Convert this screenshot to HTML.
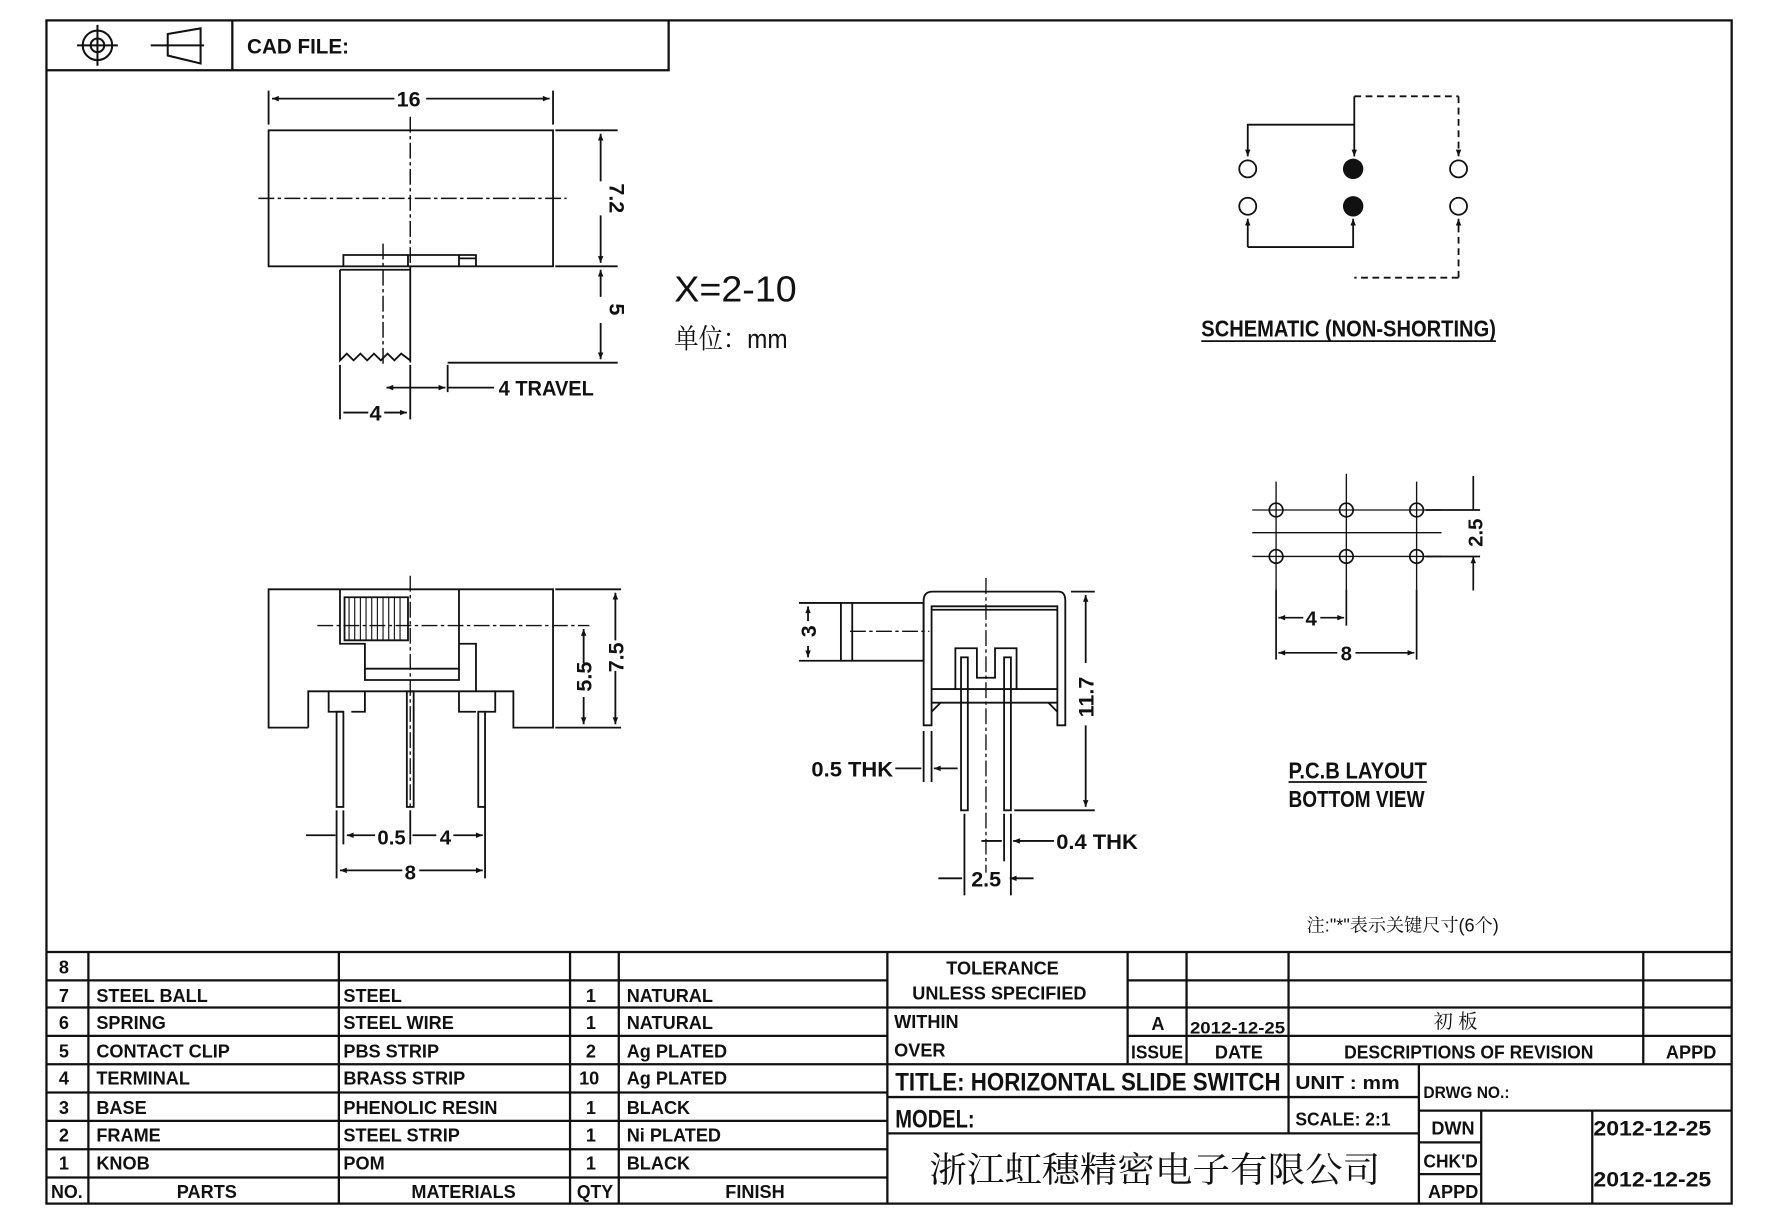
<!DOCTYPE html>
<html><head><meta charset="utf-8"><style>
html,body{margin:0;padding:0;background:#fff}
svg{display:block}
text{font-family:"Liberation Sans Narrow","Liberation Sans","Noto Sans CJK SC",sans-serif;font-weight:bold;fill:#111}
.c{font-family:"Liberation Sans","Noto Serif CJK SC","Noto Sans CJK SC",sans-serif;font-weight:normal}
</style></head><body>
<svg width="1777" height="1224" viewBox="0 0 1568 1080" preserveAspectRatio="none" xmlns="http://www.w3.org/2000/svg">
<defs>
<marker id="a" viewBox="0 0 10 10" refX="10" refY="5" markerWidth="8" markerHeight="6" orient="auto-start-reverse" markerUnits="userSpaceOnUse"><path d="M0,1 L10,5 L0,9z" fill="#111"/></marker>
</defs>
<g fill="none" stroke="#111" stroke-width="2">
<rect x="41" y="18" width="1487" height="1044"/>
<path d="M41 62H590V18M205 18V62"/>
<path d="M41 840H1528M41 865H783M41 889H1528M41 914H783M41 939H1528M41 964H783M41 989H783M41 1014H783M41 1039H783"/>
<path d="M78 840V1062M299 840V1062M503 840V1062M546 840V1062M783 840V1062"/>
<path d="M995 865H1528M995 914H1528M995 840V939M1047 840V939M1137 840V1000M1450 840V939"/>
<path d="M783 968H1252M783 1000H1252M1252 939V1062M1252 980H1528M1252 1008H1307M1252 1036H1307M1307 980V1062M1405 980V1062"/>
</g>
<g fill="none" stroke="#111" stroke-width="1.8">
<circle cx="86" cy="40" r="13"/><circle cx="86" cy="40" r="6"/>
<path d="M68 40H104M86 22V58"/>
<path d="M133 40H180M148 30L177 25V56L148 49Z"/>
</g>
<text x="218" y="47" font-size="19" textLength="90" lengthAdjust="spacingAndGlyphs">CAD  FILE:</text>
<g font-size="16">
<text x="52" y="859">8</text>
<text x="52" y="884">7</text><text x="85" y="884">STEEL  BALL</text><text x="303" y="884">STEEL</text><text x="517" y="884">1</text><text x="553" y="884">NATURAL</text>
<text x="52" y="908">6</text><text x="85" y="908">SPRING</text><text x="303" y="908">STEEL  WIRE</text><text x="517" y="908">1</text><text x="553" y="908">NATURAL</text>
<text x="52" y="933">5</text><text x="85" y="933">CONTACT  CLIP</text><text x="303" y="933">PBS  STRIP</text><text x="517" y="933">2</text><text x="553" y="933">Ag  PLATED</text>
<text x="52" y="957">4</text><text x="85" y="957">TERMINAL</text><text x="303" y="957">BRASS  STRIP</text><text x="511" y="957">10</text><text x="553" y="957">Ag  PLATED</text>
<text x="52" y="983">3</text><text x="85" y="983">BASE</text><text x="303" y="983">PHENOLIC  RESIN</text><text x="517" y="983">1</text><text x="553" y="983">BLACK</text>
<text x="52" y="1007">2</text><text x="85" y="1007">FRAME</text><text x="303" y="1007">STEEL  STRIP</text><text x="517" y="1007">1</text><text x="553" y="1007">Ni  PLATED</text>
<text x="52" y="1032">1</text><text x="85" y="1032">KNOB</text><text x="303" y="1032">POM</text><text x="517" y="1032">1</text><text x="553" y="1032">BLACK</text>
<text x="45" y="1057" textLength="28" lengthAdjust="spacingAndGlyphs">NO.</text><text x="156" y="1057">PARTS</text><text x="363" y="1057">MATERIALS</text><text x="509" y="1057" textLength="32" lengthAdjust="spacingAndGlyphs">QTY</text><text x="640" y="1057">FINISH</text>
<text x="835" y="860">TOLERANCE</text><text x="805" y="882">UNLESS    SPECIFIED</text>
<text x="789" y="907">WITHIN</text><text x="789" y="932">OVER</text>
<text x="1016" y="909">A</text><text x="1050" y="912" font-size="15" textLength="84" lengthAdjust="spacingAndGlyphs">2012-12-25</text>
<text x="998" y="934" textLength="46" lengthAdjust="spacingAndGlyphs">ISSUE</text><text x="1072" y="934">DATE</text>
<text x="1186" y="934" textLength="220" lengthAdjust="spacingAndGlyphs">DESCRIPTIONS  OF  REVISION</text><text x="1470" y="934">APPD</text>
<text x="1143" y="961" textLength="92" lengthAdjust="spacingAndGlyphs">UNIT  :  mm</text><text x="1143" y="993" textLength="84" lengthAdjust="spacingAndGlyphs">SCALE:  2:1</text>
<text x="1256" y="969" font-size="15" textLength="76" lengthAdjust="spacingAndGlyphs">DRWG  NO.:</text>
<text x="1263" y="1001">DWN</text><text x="1256" y="1030" textLength="48" lengthAdjust="spacingAndGlyphs">CHK'D</text><text x="1260" y="1057">APPD</text>
<text x="1406" y="1002" font-size="19" textLength="104" lengthAdjust="spacingAndGlyphs">2012-12-25</text><text x="1406" y="1047" font-size="19" textLength="104" lengthAdjust="spacingAndGlyphs">2012-12-25</text>
</g>
<text x="1265" y="907" font-size="17" class="c">初 板</text>
<text x="790" y="962" font-size="22" textLength="340" lengthAdjust="spacingAndGlyphs">TITLE:  HORIZONTAL  SLIDE  SWITCH</text>
<text x="790" y="995" font-size="22" textLength="70" lengthAdjust="spacingAndGlyphs">MODEL:</text>
<text x="820" y="1043" font-size="31" class="c" textLength="398" lengthAdjust="spacingAndGlyphs">浙江虹穗精密电子有限公司</text>

<g fill="none" stroke="#111" stroke-width="1.6">
<rect x="237" y="115" width="251" height="120"/>
<path d="M237 80V110M488 80V110"/>
<path d="M240 87H348M376 87H485" marker-start="url(#a)" marker-end="url(#a)"/>
<path d="M490 115H545M490 235H545M395 320H545"/>
<path d="M530 118V160M530 190V232" marker-start="url(#a)" marker-end="url(#a)"/>
<path d="M530 238V262M530 285V317" marker-start="url(#a)" marker-end="url(#a)"/>
<path d="M228 175H500M362 103V320M338 215V322" stroke-dasharray="14 3 3 3" stroke-width="1.3"/>
<path d="M303 235V225H360V235M360 225H420V235M405 225V235M405 228H420"/>
<path d="M300 238H362M300 238V318L306 312L312 318L318 312L324 318L330 312L336 318L342 312L348 318L354 312L362 318V235"/>
<path d="M300 322V370M362 322V370M395 322V346"/>
<path d="M303 364H325M339 364H359" marker-end="url(#a)"/>
<path d="M341 342H393" marker-start="url(#a)" marker-end="url(#a)"/>
<path d="M395 342H436"/>
</g>
<text x="350" y="94" font-size="19">16</text>
<text x="538" y="175" font-size="19" transform="rotate(90 538 175)" text-anchor="middle">7.2</text>
<text x="538" y="273" font-size="19" transform="rotate(90 538 273)" text-anchor="middle">5</text>
<text x="326" y="371" font-size="19">4</text>
<text x="440" y="349" font-size="19" textLength="84" lengthAdjust="spacingAndGlyphs">4  TRAVEL</text>
<text x="595" y="266" font-size="32" style="font-weight:normal" textLength="108" lengthAdjust="spacingAndGlyphs">X=2-10</text>
<text x="595" y="307" font-size="24" class="c" textLength="100" lengthAdjust="spacingAndGlyphs">单位：mm</text>

<g fill="none" stroke="#111" stroke-width="1.6">
<path d="M1195 85H1287M1287 245H1195" stroke-dasharray="6 4"/>
<path d="M1287 85V138" stroke-dasharray="6 4" marker-end="url(#a)"/>
<path d="M1287 245V193" stroke-dasharray="6 4" marker-end="url(#a)"/>
<path d="M1195 110H1101V138" marker-end="url(#a)"/>
<path d="M1195 85V138" marker-end="url(#a)"/>
<path d="M1101 218H1194V193" marker-end="url(#a)"/>
<path d="M1101 218V193" marker-end="url(#a)"/>
<circle cx="1101" cy="149" r="7.5"/><circle cx="1101" cy="182" r="7.5"/>
<circle cx="1287" cy="149" r="7.5"/><circle cx="1287" cy="182" r="7.5"/>
<path d="M1060 301H1320" stroke-width="1.5"/>
</g>
<circle cx="1194" cy="149" r="9" fill="#111"/><circle cx="1194" cy="182" r="9" fill="#111"/>
<text x="1060" y="297" font-size="20" textLength="260" lengthAdjust="spacingAndGlyphs">SCHEMATIC  (NON-SHORTING)</text>

<g fill="none" stroke="#111" stroke-width="1.5">
<path d="M1105 450H1272M1105 491H1272M1105 470H1272" stroke-width="1.2"/>
<path d="M1126 425V520M1188 418V520M1250 425V520" stroke-width="1.2"/>
<circle cx="1126" cy="450" r="6"/><circle cx="1188" cy="450" r="6"/><circle cx="1250" cy="450" r="6"/>
<circle cx="1126" cy="491" r="6"/><circle cx="1188" cy="491" r="6"/><circle cx="1250" cy="491" r="6"/>
<path d="M1258 450H1306M1258 491H1306"/>
<path d="M1300 420V450M1300 521V491" marker-end="url(#a)"/>
<path d="M1126 520V582M1188 520V552M1250 520V582"/>
<path d="M1128 545H1150" marker-start="url(#a)"/>
<path d="M1128 576H1180" marker-start="url(#a)"/>
<path d="M1165 545H1186" marker-end="url(#a)"/>
<path d="M1196 576H1248" marker-end="url(#a)"/>
<path d="M1137 690H1259" stroke-width="1.5"/>
</g>
<text x="1308" y="470" font-size="18" transform="rotate(-90 1308 470)" text-anchor="middle">2.5</text>
<text x="1152" y="552" font-size="18">4</text>
<text x="1183" y="583" font-size="18">8</text>
<text x="1137" y="687" font-size="20" textLength="122" lengthAdjust="spacingAndGlyphs">P.C.B  LAYOUT</text>
<text x="1137" y="712" font-size="20" textLength="120" lengthAdjust="spacingAndGlyphs">BOTTOM  VIEW</text>

<g fill="none" stroke="#111" stroke-width="1.6">
<path d="M272 642H237V520H488V642H453V610H437V628H428M272 642V610H290V628H303"/>
<path d="M290 610H437M310 628H322V610M405 610V628H420"/>
<path d="M300 520V568H322V600H405V568H420V610M405 520V568M322 590H405"/>
<path d="M304 527H360V565H304Z"/>
<path d="M308 527V565M313 527V565M318 527V565M323 527V565M328 527V565M333 527V565M338 527V565M343 527V565M348 527V565M353 527V565" stroke-width="1"/>
<path d="M362 508V740M280 552H520" stroke-dasharray="14 3 3 3" stroke-width="1.2"/>
<rect x="297" y="628" width="6" height="84"/><rect x="359" y="610" width="6" height="102"/><rect x="422" y="628" width="6" height="84"/>
<path d="M490 520H548M490 642H548"/>
<path d="M515 555V585M515 615V639" marker-start="url(#a)" marker-end="url(#a)"/>
<path d="M543 523V565M543 592V639" marker-start="url(#a)" marker-end="url(#a)"/>
<path d="M297 715V775M303 715V745M362 715V745M428 712V775"/>
<path d="M270 737H296M331 737H306" marker-end="url(#a)"/>
<path d="M385 737H364M400 737H426" marker-end="url(#a)"/>
<path d="M300 768H355M370 768H426" marker-start="url(#a)" marker-end="url(#a)"/>
</g>
<text x="333" y="745" font-size="18">0.5</text><text x="388" y="745" font-size="18">4</text><text x="357" y="776" font-size="18">8</text>
<text x="522" y="597" font-size="19" transform="rotate(-90 522 597)" text-anchor="middle">5.5</text>
<text x="550" y="580" font-size="19" transform="rotate(-90 550 580)" text-anchor="middle">7.5</text>

<g fill="none" stroke="#111" stroke-width="1.6">
<rect x="742" y="532" width="73" height="51"/><path d="M752 532V583"/>
<path d="M705 532H742M705 583H742"/>
<path d="M713 535V548M713 570V580" marker-start="url(#a)" marker-end="url(#a)"/>
<path d="M750 557H820M870 510V770" stroke-dasharray="14 3 3 3" stroke-width="1.2"/>
<path d="M815 640V530Q815 522 823 522H934Q940 522 940 530V640H933V535H822V640Z"/>
<path d="M822 538H933M822 608H933M822 620H933"/>
<path d="M843 608V572H862V598H878V572H897V608"/>
<rect x="848" y="580" width="6" height="135"/><rect x="886" y="580" width="6" height="135"/>
<path d="M822 628L830 620M933 628L925 620"/>
<path d="M945 522H966M895 715H966"/>
<path d="M958 525V585M958 640V712" marker-start="url(#a)" marker-end="url(#a)"/>
<path d="M815 645V690M822 645V690"/>
<path d="M790 678H813M845 678H824" marker-end="url(#a)"/>
<path d="M851 718V790M886 718V760M892 718V790"/>
<path d="M866 742H884M930 742H894" marker-end="url(#a)"/>
<path d="M828 775H849M912 775H891" marker-end="url(#a)"/>
</g>
<text x="720" y="557" font-size="19" transform="rotate(-90 720 557)" text-anchor="middle">3</text>
<text x="965" y="615" font-size="19" transform="rotate(-90 965 615)" text-anchor="middle">11.7</text>
<text x="716" y="685" font-size="19" textLength="72" lengthAdjust="spacingAndGlyphs">0.5  THK</text>
<text x="932" y="749" font-size="19" textLength="72" lengthAdjust="spacingAndGlyphs">0.4  THK</text>
<text x="857" y="782" font-size="19">2.5</text>
<text x="1153" y="822" font-size="16" class="c">注:"*"表示关键尺寸(6个)</text>
</svg>
</body></html>
